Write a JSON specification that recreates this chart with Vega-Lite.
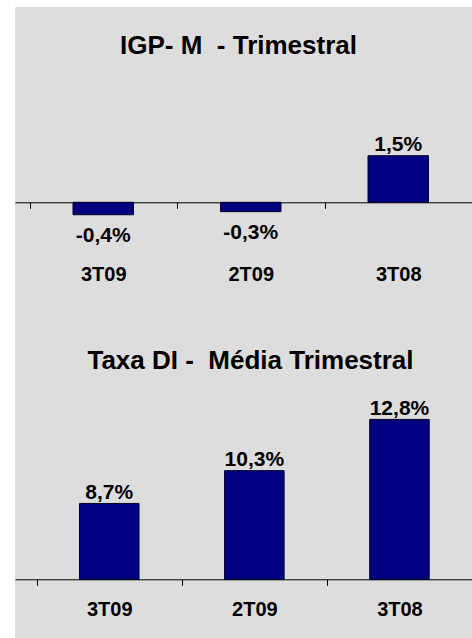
{
  "$schema": "https://vega.github.io/schema/vega-lite/v6.json",
  "background": "white",
  "padding": {"left": 15, "top": 7, "right": 0, "bottom": 0},
  "spacing": 0,
  "config": {
    "font": "Liberation Sans",
    "view": {"fill": "#dddddd", "stroke": null},
    "axis": {
      "domainColor": "black",
      "domainWidth": 1,
      "tickColor": "black",
      "tickSize": 6,
      "labelFont": "Liberation Sans",
      "labelFontSize": 20,
      "labelFontWeight": "bold",
      "labelColor": "black"
    },
    "title": {"font": "Liberation Sans", "fontSize": 26, "fontWeight": "bold", "color": "black", "anchor": "middle", "frame": "group", "baseline": "alphabetic"}
  },
  "datasets": {
    "igpm": [
      {"periodo": "3T09", "valor": -0.4, "rotulo": "-0,4%"},
      {"periodo": "2T09", "valor": -0.3, "rotulo": "-0,3%"},
      {"periodo": "3T08", "valor": 1.5, "rotulo": "1,5%"}
    ],
    "di": [
      {"periodo": "3T09", "valor": 8.7, "rotulo": "8,7%"},
      {"periodo": "2T09", "valor": 10.3, "rotulo": "10,3%"},
      {"periodo": "3T08", "valor": 12.8, "rotulo": "12,8%"}
    ]
  },
  "vconcat": [
    {
      "width": 457,
      "height": 313,
      "data": {"name": "igpm"},
      "title": {"text": "IGP- M\u00a0 - Trimestral", "offset": -52, "dx": -5},
      "encoding": {
        "x": {
          "field": "periodo", "type": "nominal", "sort": ["3T09", "2T09", "3T08"],
          "scale": {"paddingInner": 0, "paddingOuter": 0.0492, "align": 1},
          "axis": {"title": null, "labelAngle": 0, "tickBand": "extent", "offset": -117.7, "labelPadding": 56}
        }
      },
      "layer": [
        {
          "mark": {"type": "bar", "width": {"band": 0.41}, "color": "#000080", "stroke": "#000022", "strokeWidth": 1},
          "encoding": {
            "y": {"field": "valor", "type": "quantitative", "scale": {"domain": [-3.788, 6.286], "nice": false, "zero": false}, "axis": null},
            "y2": {"datum": 0}
          }
        },
        {
          "transform": [{"filter": "datum.valor >= 0"}],
          "mark": {"type": "text", "baseline": "alphabetic", "dy": -5, "fontSize": 21, "fontWeight": "bold", "color": "black"},
          "encoding": {
            "y": {"field": "valor", "type": "quantitative", "axis": null},
            "text": {"field": "rotulo"}
          }
        },
        {
          "transform": [{"filter": "datum.valor < 0"}],
          "mark": {"type": "text", "baseline": "alphabetic", "dy": 27.5, "fontSize": 21, "fontWeight": "bold", "color": "black"},
          "encoding": {
            "y": {"field": "valor", "type": "quantitative", "axis": null},
            "text": {"field": "rotulo"}
          }
        }
      ]
    },
    {
      "width": 457,
      "height": 320,
      "data": {"name": "di"},
      "title": {"text": "Taxa DI -\u00a0 Média Trimestral", "offset": -54, "dx": 7},
      "encoding": {
        "x": {
          "field": "periodo", "type": "nominal", "sort": ["3T09", "2T09", "3T08"],
          "scale": {"paddingInner": 0, "paddingOuter": 0.0748, "align": 1},
          "axis": {"title": null, "labelAngle": 0, "tickBand": "extent", "offset": -60.7, "labelPadding": 14}
        }
      },
      "layer": [
        {
          "mark": {"type": "bar", "width": {"band": 0.41}, "color": "#000080", "stroke": "#000022", "strokeWidth": 1},
          "encoding": {
            "y": {"field": "valor", "type": "quantitative", "scale": {"domain": [2.039, 17.649], "nice": false, "zero": false}, "axis": null},
            "y2": {"datum": 5}
          }
        },
        {
          "mark": {"type": "text", "baseline": "alphabetic", "dy": -4.5, "fontSize": 21, "fontWeight": "bold", "color": "black"},
          "encoding": {
            "y": {"field": "valor", "type": "quantitative", "axis": null},
            "text": {"field": "rotulo"}
          }
        }
      ]
    }
  ]
}
